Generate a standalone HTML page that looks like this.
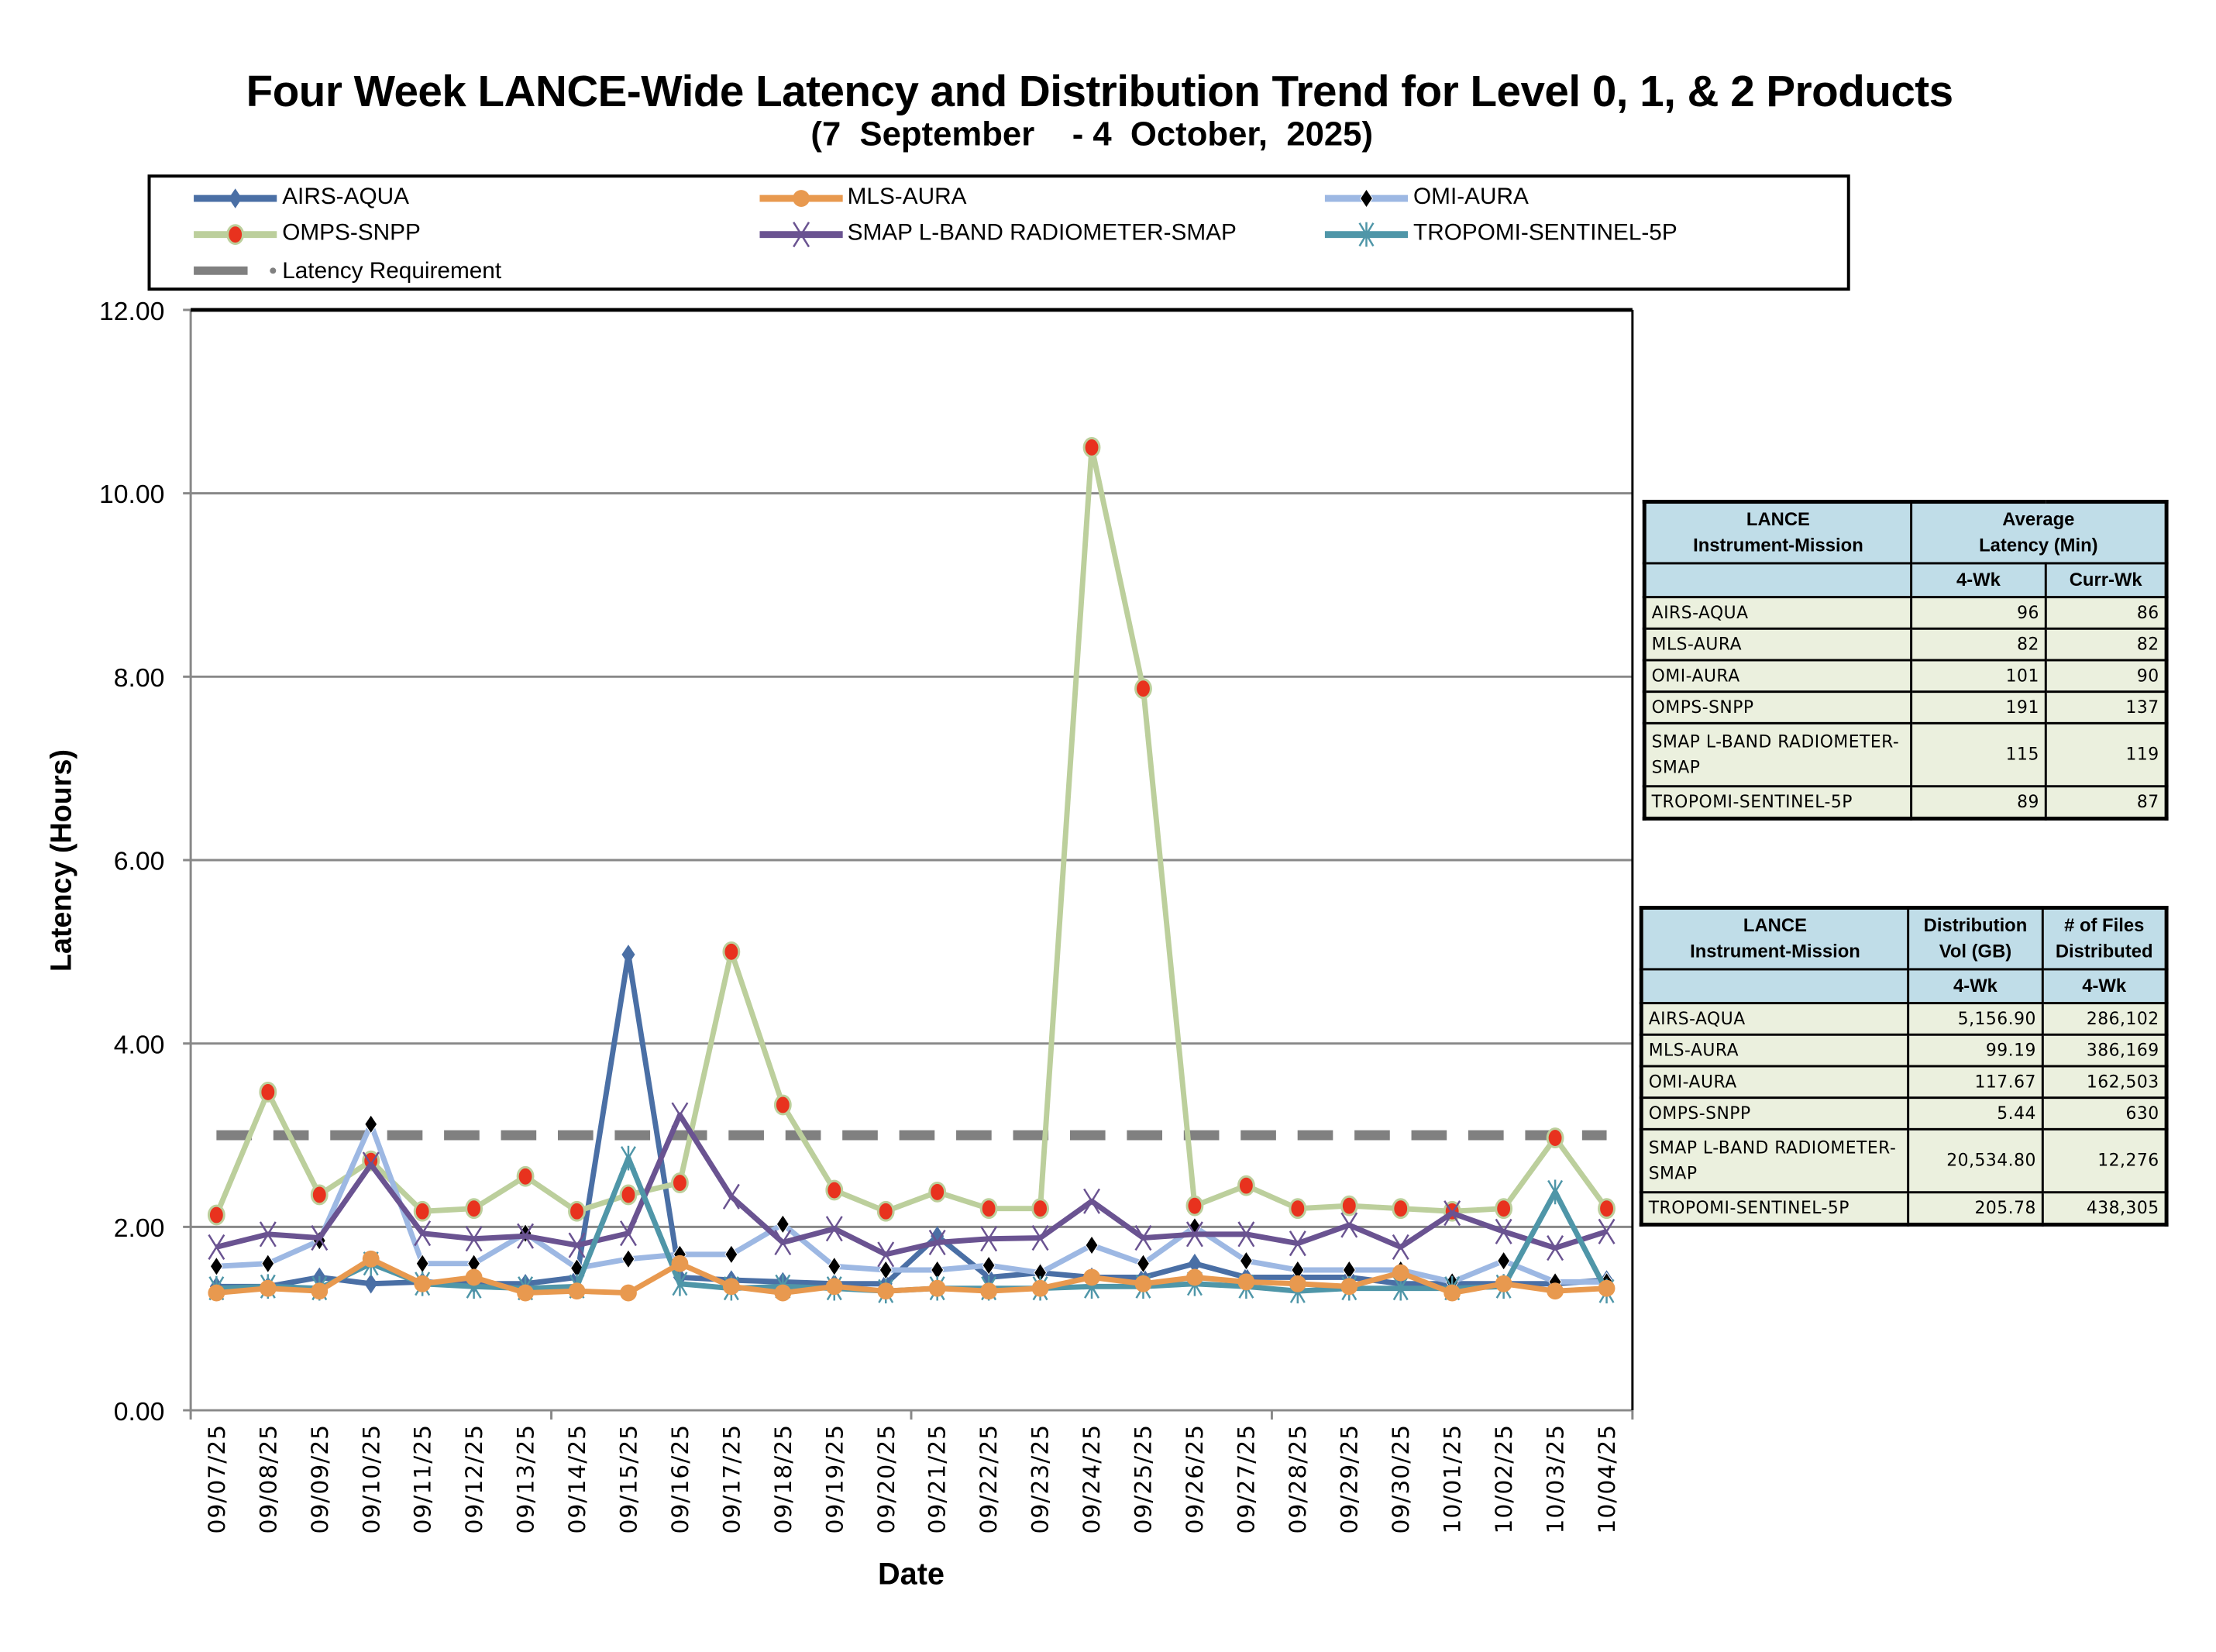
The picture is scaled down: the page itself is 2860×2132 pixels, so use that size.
<!DOCTYPE html>
<html><head><meta charset="utf-8"><style>
body{margin:0;background:#fff;width:2860px;height:2132px;overflow:hidden;position:relative;font-family:"Liberation Sans",sans-serif}
#w{position:absolute;left:0;top:0;width:2860px;height:2132px;transform:scale(0.9924);transform-origin:0 0}
.t{position:absolute;left:0;width:2860px;text-align:center;font-weight:bold;color:#000}
table{position:absolute;border-collapse:collapse;font-family:"DejaVu Sans","Liberation Sans",sans-serif;font-size:22px;letter-spacing:0.5px;border:5px solid #000;table-layout:fixed}
td{border:3px solid #000;padding:0 7px;background:#ebf0de;height:38px;line-height:1.5;white-space:nowrap;overflow:hidden}
td.h{background:#c0dde8;font-weight:bold;text-align:center;font-family:"Liberation Sans",sans-serif;font-size:24px;letter-spacing:0;line-height:1.4}
td.n{text-align:right}
</style></head><body><div id="w">
<div class="t" style="top:86px;font-size:57px;letter-spacing:-0.5px">Four Week LANCE-Wide Latency and Distribution Trend for Level 0, 1, &amp; 2 Products</div>
<div class="t" style="top:150px;font-size:44px;left:-10px">(7&nbsp; September &nbsp;&nbsp; - 4&nbsp; October,&nbsp; 2025)</div>
<svg id="s" width="2860" height="2132" style="position:absolute;left:0;top:0" font-family="Liberation Sans, sans-serif">
<rect x="194" y="229" width="2210" height="147" fill="none" stroke="#000" stroke-width="4"/>
<g font-size="30" fill="#000">
<text x="367" y="265">AIRS-AQUA</text><text x="1102" y="265">MLS-AURA</text><text x="1838" y="265">OMI-AURA</text>
<text x="367" y="312">OMPS-SNPP</text><text x="1102" y="312">SMAP L-BAND RADIOMETER-SMAP</text><text x="1838" y="312">TROPOMI-SENTINEL-5P</text>
<text x="367" y="362">Latency Requirement</text>
</g>
<g stroke="#888" stroke-width="3">
<line x1="248" y1="1595.5" x2="2123" y2="1595.5"/><line x1="248" y1="1357" x2="2123" y2="1357"/><line x1="248" y1="1118.5" x2="2123" y2="1118.5"/><line x1="248" y1="880" x2="2123" y2="880"/><line x1="248" y1="641.5" x2="2123" y2="641.5"/>
<line x1="248" y1="403" x2="248" y2="1834"/><line x1="238" y1="1834" x2="2123" y2="1834"/>
<line x1="238" y1="403" x2="248" y2="403"/><line x1="238" y1="641.5" x2="248" y2="641.5"/><line x1="238" y1="880" x2="248" y2="880"/><line x1="238" y1="1118.5" x2="248" y2="1118.5"/><line x1="238" y1="1357" x2="248" y2="1357"/><line x1="238" y1="1595.5" x2="248" y2="1595.5"/>
<line x1="248" y1="1834" x2="248" y2="1846"/><line x1="717" y1="1834" x2="717" y2="1846"/><line x1="1185" y1="1834" x2="1185" y2="1846"/><line x1="1654" y1="1834" x2="1654" y2="1846"/><line x1="2123" y1="1834" x2="2123" y2="1846"/>
</g>
<line x1="248" y1="403" x2="2123" y2="403" stroke="#000" stroke-width="5"/>
<line x1="2123" y1="403" x2="2123" y2="1834" stroke="#000" stroke-width="3"/>
<g font-size="34" text-anchor="end">
<text x="214" y="416">12.00</text><text x="214" y="654">10.00</text><text x="214" y="893">8.00</text><text x="214" y="1131">6.00</text><text x="214" y="1370">4.00</text><text x="214" y="1608">2.00</text><text x="214" y="1847">0.00</text>
</g>
<text transform="translate(92,1119) rotate(-90)" text-anchor="middle" font-size="38" font-weight="bold">Latency (Hours)</text>
<text x="1185" y="2060" text-anchor="middle" font-size="40" font-weight="bold">Date</text>
<g id="dates" font-size="30" font-family="DejaVu Sans, sans-serif" text-anchor="end" letter-spacing="1">
<text transform="translate(292,1852) rotate(-90)">09/07/25</text>
<text transform="translate(359,1852) rotate(-90)">09/08/25</text>
<text transform="translate(426,1852) rotate(-90)">09/09/25</text>
<text transform="translate(493,1852) rotate(-90)">09/10/25</text>
<text transform="translate(560,1852) rotate(-90)">09/11/25</text>
<text transform="translate(627,1852) rotate(-90)">09/12/25</text>
<text transform="translate(694,1852) rotate(-90)">09/13/25</text>
<text transform="translate(761,1852) rotate(-90)">09/14/25</text>
<text transform="translate(828,1852) rotate(-90)">09/15/25</text>
<text transform="translate(895,1852) rotate(-90)">09/16/25</text>
<text transform="translate(962,1852) rotate(-90)">09/17/25</text>
<text transform="translate(1029,1852) rotate(-90)">09/18/25</text>
<text transform="translate(1096,1852) rotate(-90)">09/19/25</text>
<text transform="translate(1163,1852) rotate(-90)">09/20/25</text>
<text transform="translate(1229,1852) rotate(-90)">09/21/25</text>
<text transform="translate(1296,1852) rotate(-90)">09/22/25</text>
<text transform="translate(1363,1852) rotate(-90)">09/23/25</text>
<text transform="translate(1430,1852) rotate(-90)">09/24/25</text>
<text transform="translate(1497,1852) rotate(-90)">09/25/25</text>
<text transform="translate(1564,1852) rotate(-90)">09/26/25</text>
<text transform="translate(1631,1852) rotate(-90)">09/27/25</text>
<text transform="translate(1698,1852) rotate(-90)">09/28/25</text>
<text transform="translate(1765,1852) rotate(-90)">09/29/25</text>
<text transform="translate(1832,1852) rotate(-90)">09/30/25</text>
<text transform="translate(1899,1852) rotate(-90)">10/01/25</text>
<text transform="translate(1966,1852) rotate(-90)">10/02/25</text>
<text transform="translate(2033,1852) rotate(-90)">10/03/25</text>
<text transform="translate(2100,1852) rotate(-90)">10/04/25</text>
</g>
<g id="plot"></g>
<g id="leg"></g>
</svg>
<table style="left:2136px;top:650px;width:684px">
<colgroup><col style="width:347px"><col style="width:175px"><col></colgroup>
<tr style="height:80px"><td class="h">LANCE<br>Instrument-Mission</td><td class="h" colspan="2">Average<br>Latency (Min)</td></tr>
<tr style="height:44px"><td class="h"></td><td class="h">4-Wk</td><td class="h">Curr-Wk</td></tr>
<tr><td>AIRS-AQUA</td><td class="n">96</td><td class="n">86</td></tr>
<tr><td>MLS-AURA</td><td class="n">82</td><td class="n">82</td></tr>
<tr><td>OMI-AURA</td><td class="n">101</td><td class="n">90</td></tr>
<tr><td>OMPS-SNPP</td><td class="n">191</td><td class="n">137</td></tr>
<tr style="height:82px"><td>SMAP L-BAND RADIOMETER-<br>SMAP</td><td class="n">115</td><td class="n">119</td></tr>
<tr><td>TROPOMI-SENTINEL-5P</td><td class="n">89</td><td class="n">87</td></tr>
</table>
<table style="left:2132px;top:1178px;width:688px">
<colgroup><col style="width:347px"><col style="width:175px"><col></colgroup>
<tr style="height:80px"><td class="h">LANCE<br>Instrument-Mission</td><td class="h">Distribution<br>Vol (GB)</td><td class="h"># of Files<br>Distributed</td></tr>
<tr style="height:44px"><td class="h"></td><td class="h">4-Wk</td><td class="h">4-Wk</td></tr>
<tr><td>AIRS-AQUA</td><td class="n">5,156.90</td><td class="n">286,102</td></tr>
<tr><td>MLS-AURA</td><td class="n">99.19</td><td class="n">386,169</td></tr>
<tr><td>OMI-AURA</td><td class="n">117.67</td><td class="n">162,503</td></tr>
<tr><td>OMPS-SNPP</td><td class="n">5.44</td><td class="n">630</td></tr>
<tr style="height:82px"><td>SMAP L-BAND RADIOMETER-<br>SMAP</td><td class="n">20,534.80</td><td class="n">12,276</td></tr>
<tr><td>TROPOMI-SENTINEL-5P</td><td class="n">205.78</td><td class="n">438,305</td></tr>
</table>
</div>
<script>
const NS="http://www.w3.org/2000/svg";
const X=i=>281.5+66.96*i, Y=v=>1834-119.25*v;
const S=[
{c:"#4a6fa5",m:"dia",mc:"#4a6fa5",d:[1.35,1.35,1.45,1.38,1.4,1.38,1.38,1.45,4.97,1.45,1.42,1.4,1.38,1.38,1.9,1.45,1.5,1.45,1.45,1.6,1.45,1.45,1.45,1.38,1.38,1.38,1.38,1.42]},
{c:"#e8994f",m:"circ",mc:"#e8994f",d:[1.28,1.33,1.3,1.65,1.38,1.45,1.28,1.3,1.28,1.6,1.35,1.28,1.35,1.3,1.33,1.3,1.33,1.45,1.38,1.45,1.4,1.38,1.35,1.5,1.28,1.38,1.3,1.33]},
{c:"#9db8e3",m:"dia",mc:"#000",d:[1.57,1.6,1.85,3.12,1.6,1.6,1.93,1.55,1.65,1.7,1.7,2.03,1.57,1.53,1.53,1.58,1.5,1.8,1.6,2.0,1.63,1.53,1.53,1.53,1.4,1.63,1.4,1.4]},
{c:"#bccf9c",m:"red",mc:"#e8321e",d:[2.13,3.47,2.35,2.72,2.17,2.2,2.55,2.17,2.35,2.48,5.0,3.33,2.4,2.17,2.38,2.2,2.2,10.5,7.87,2.23,2.45,2.2,2.23,2.2,2.17,2.2,2.97,2.2]},
{c:"#6a5391",m:"x",mc:"#6a5391",d:[1.78,1.92,1.88,2.68,1.93,1.87,1.9,1.8,1.93,3.22,2.33,1.83,1.98,1.7,1.83,1.87,1.88,2.28,1.88,1.92,1.92,1.82,2.02,1.78,2.15,1.95,1.77,1.95]},
{c:"#4f96a8",m:"ast",mc:"#4f96a8",d:[1.33,1.35,1.33,1.6,1.38,1.35,1.33,1.35,2.75,1.38,1.33,1.35,1.33,1.3,1.33,1.33,1.33,1.35,1.35,1.38,1.35,1.3,1.33,1.33,1.33,1.35,2.38,1.3]}];
function el(t,a,p){const e=document.createElementNS(NS,t);for(const k in a)e.setAttribute(k,a[k]);p.appendChild(e);return e;}
function mk(s,x,y,p){
 if(s.m=="dia"){el("path",{d:`M${x} ${y-12}L${x+8} ${y}L${x} ${y+12}L${x-8} ${y}Z`,fill:s.mc,stroke:s.mc=="#000"?"#fff":s.mc,"stroke-width":1},p);}
 else if(s.m=="circ"){el("circle",{cx:x,cy:y,r:11,fill:s.mc},p);}
 else if(s.m=="red"){el("ellipse",{cx:x,cy:y,rx:10,ry:12,fill:s.mc,stroke:s.c,"stroke-width":3},p);}
 else if(s.m=="x"){el("path",{d:`M${x-10} ${y-16}L${x+10} ${y+16}M${x+10} ${y-16}L${x-10} ${y+16}`,stroke:s.mc,"stroke-width":2.5},p);}
 else {el("path",{d:`M${x-9} ${y-15}L${x+9} ${y+15}M${x+9} ${y-15}L${x-9} ${y+15}M${x} ${y-16}L${x} ${y+16}`,stroke:s.mc,"stroke-width":2.5},p);}
}
const P=document.getElementById("plot");
el("line",{x1:X(0),y1:Y(3),x2:X(27),y2:Y(3),stroke:"#808080","stroke-width":13,"stroke-dasharray":"46,28"},P);
[0,3,2,4,5,1].forEach(k=>{const s=S[k];
 el("polyline",{points:s.d.map((v,i)=>X(i)+","+Y(v)).join(" "),fill:"none",stroke:s.c,"stroke-width":7,"stroke-linejoin":"round"},P);
 s.d.forEach((v,i)=>mk(s,X(i),Y(v),P));});
const L=document.getElementById("leg");
const pos=[[252,258],[988,258],[1723,258],[252,305],[988,305],[1723,305]];
S.forEach((s,k)=>{const [x,y]=pos[k];el("line",{x1:x,y1:y,x2:x+108,y2:y,stroke:s.c,"stroke-width":9},L);mk(s,x+54,y,L);});
el("line",{x1:252,y1:352,x2:322,y2:352,stroke:"#808080","stroke-width":11},L);
el("circle",{cx:355,cy:352,r:4,fill:"#808080"},L);
</script>
</body></html>
